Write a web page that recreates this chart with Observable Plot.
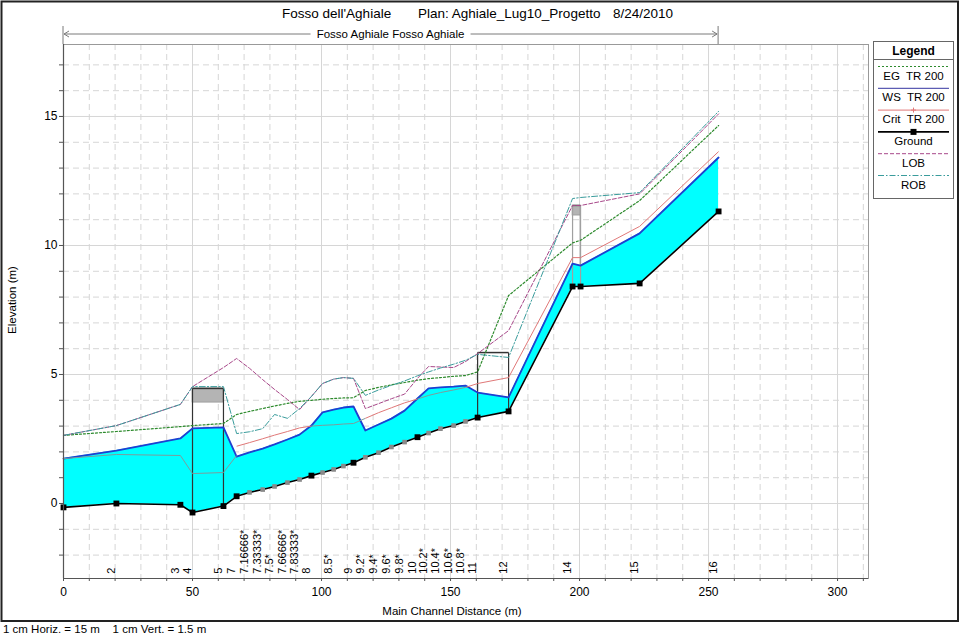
<!DOCTYPE html>
<html><head><meta charset="utf-8">
<script src="https://cdn.jsdelivr.net/npm/d3@7"></script>
<script src="https://cdn.jsdelivr.net/npm/@observablehq/plot@0.6"></script>
<style>
html,body{margin:0;padding:0;background:#fff;}
#chart svg{display:block;}
</style></head><body><div id="chart"></div>
<script>
// ---------- data ----------
const stationDist = [0, 20.5, 45.3, 50.0, 62.0, 67.1, 72.1, 77.2, 81.8, 86.8, 91.5, 96.1, 100.4, 104.7, 108.5, 112.4, 117.0, 122.1, 127.1, 132.2, 137.2, 141.5, 146.1, 151.2, 155.8, 160.5, 172.5, 197.3, 200.4, 223.3, 253.9];
const stationLabel = ["", "2", "3", "4", "5", "7", "7.16666*", "7.33333*", "7.5*", "7.66666*", "7.83333*", "8", "", "8.5*", "", "9", "9.2*", "9.4*", "9.6*", "9.8*", "10", "10.2*", "10.4*", "10.6*", "10.8*", "11", "12", "14", "", "15", "16"];
const stationInterp = [0,0,0,0,0,0,1,1,1,1,1,0,1,1,1,0,1,1,1,1,0,1,1,1,1,0,0,0,0,0,0];
const groundElev = [-0.15, 0.0, -0.05, -0.35, -0.1, 0.28, 0.43, 0.54, 0.66, 0.81, 0.93, 1.08, 1.2, 1.32, 1.45, 1.58, 1.79, 1.97, 2.19, 2.38, 2.57, 2.73, 2.9, 3.02, 3.18, 3.33, 3.57, 8.41, 8.41, 8.53, 11.32];
const wsElev = [1.74, 2.05, 2.52, 2.91, 2.95, 1.82, 1.98, 2.13, 2.29, 2.48, 2.67, 3.02, 3.53, 3.64, 3.72, 3.76, 2.83, 3.06, 3.29, 3.6, 4.07, 4.46, 4.5, 4.53, 4.57, 4.3, 4.11, 9.3, 9.22, 10.47, 13.41];
const egElev = [2.64, 2.79, 2.98, 3.02, 3.1, 3.45, 3.57, 3.68, 3.78, 3.88, 3.96, 4.0, 4.04, 4.07, 4.09, 4.1, 4.38, 4.5, 4.6, 4.69, 4.78, 4.84, 4.88, 4.93, 4.96, 5.1, 8.06, 10.1, 10.2, 11.74, 14.65];
const lobElev = [2.64, 3.02, 3.84, 4.53, 5.27, 5.62, 5.24, 4.8, 4.42, 4.03, 3.64, 4.15, 4.65, 4.82, 4.88, 4.85, 3.68, 3.87, 4.06, 4.24, 4.85, 5.31, 5.29, 5.27, 5.5, 5.81, 6.7, 11.55, 11.55, 12.0, 15.1];
const robElev = [2.64, 3.02, 3.84, 4.53, 4.53, 2.71, 2.78, 2.9, 3.45, 3.3, 3.68, 4.15, 4.65, 4.82, 4.88, 4.85, 4.19, 4.4, 4.58, 4.75, 4.95, 5.1, 5.25, 5.4, 5.55, 5.78, 5.66, 11.82, 11.86, 12.05, 15.2];
const critDist = [0, 20.5, 45.3, 50.0, 62.0, 67.1, 67.1, 72.1, 77.2, 81.8, 86.8, 91.5, 96.1, 100.4, 104.7, 108.5, 112.4, 117.0, 122.1, 127.1, 132.2, 137.2, 141.5, 146.1, 151.2, 155.8, 160.5, 172.5, 197.3, 200.4, 223.3, 253.9];
const critElev = [1.74, 1.9, 1.86, 1.16, 1.2, 1.86, 2.22, 2.36, 2.51, 2.65, 2.79, 2.93, 3.0, 3.03, 3.05, 3.08, 3.1, 3.3, 3.52, 3.71, 3.9, 4.05, 4.19, 4.3, 4.4, 4.5, 4.65, 4.88, 9.53, 9.53, 10.74, 13.64];
// structures (bridges / culvert)
const structLeft = [50.0, 160.5, 197.3];
const structRight = [62.0, 172.5, 200.4];
const structTop = [4.46, 5.85, 11.55];
const structLowChord = [3.91, 5.85, 11.16];
// axis ticks
const xTickLabels = [0, 50, 100, 150, 200, 250, 300];
const yTickLabels = [0, 5, 10, 15];
const legendLabels = ["EG  TR 200", "WS  TR 200", "Crit  TR 200", "Ground", "LOB", "ROB"];
const titleParts = ["Fosso dell'Aghiale", "Plan: Aghiale_Lug10_Progetto", "8/24/2010"];
const reachLabel = "Fosso Aghiale Fosso Aghiale";
const xTitle = "Main Channel Distance (m)";
const yTitle = "Elevation (m)";
const scaleNote = "1 cm Horiz. = 15 m    1 cm Vert. = 1.5 m";

// ---------- build tables ----------
const FONT = "'Liberation Sans', Arial, Helvetica, sans-serif";
const C = {eg:"#2e8b2e", ws:"#1f3fd0", crit:"#e07878", critIn:"#7d9c9c", ground:"#000", lob:"#a8488a", rob:"#3a9c9c", fill:"#00ffff"};
const stations = stationDist.map((d,i)=>({d, label:stationLabel[i], interp:!!stationInterp[i], ground:groundElev[i], ws:wsElev[i], eg:egElev[i], lob:lobElev[i], rob:robElev[i]}));
const wsAt = d3.scaleLinear().domain(stationDist).range(wsElev);
const groundAt = d3.scaleLinear().domain(stationDist).range(groundElev);
const critPts = critDist.map((d,i)=>({d, e:critElev[i], above: critElev[i] > wsAt(d) + 0.1}));
const critSegs = [];
for (let i=0;i<critPts.length-1;i++){
  const a=critPts[i], b=critPts[i+1];
  if (b.d===a.d) continue;
  critSegs.push({x1:a.d,y1:a.e,x2:b.d,y2:b.e, above:(a.e+b.e)/2 > wsAt((a.d+b.d)/2)});
}
const structs = structLeft.map((l,i)=>({i, left:l, right:structRight[i], top:structTop[i], low:structLowChord[i], gl:groundAt(l), gr:groundAt(structRight[i])}));
const structSides = structs.flatMap(s=>[{i:s.i, x:s.left, y1:s.gl, y2:s.top},{i:s.i, x:s.right, y1:s.gr, y2:s.top}]);

const xMinor = d3.range(0, 311, 10);
const yMinor = d3.range(-2, 18, 1);
const yDom = [-2.907, 17.79];

const chart = Plot.plot({
  width:960, height:635,
  marginLeft:63, marginRight:92, marginTop:44, marginBottom:57,
  x:{domain:[0,312], label:null},
  y:{domain:yDom, label:null},
  style:{fontFamily:FONT, fontSize:"12px", background:"#fff", color:"#000"},
  marks:[
    Plot.ruleX(xMinor.filter(v=>v%50!==0), {stroke:"#d6d6d6", strokeDasharray:"6,4"}),
    Plot.ruleX(xMinor.filter(v=>v%50===0), {stroke:"#d6d6d6"}),
    Plot.ruleY(yMinor.filter(v=>v%5!==0), {stroke:"#d6d6d6", strokeDasharray:"6,4"}),
    Plot.ruleY(yMinor.filter(v=>v%5===0), {stroke:"#d6d6d6"}),
    Plot.areaY(stations, {x:"d", y1:"ground", y2:"ws", fill:C.fill}),
    Plot.rect(structs.filter(s=>s.low<s.top), {x1:"left", x2:"right", y1:"low", y2:"top", fill:"#b4b4b4", stroke:"#888", strokeWidth:0.6}),
    Plot.link(structSides, {x1:"x", x2:"x", y1:"y1", y2:"y2", stroke:d=>d.i===2?"#a0a0a0":"#333", strokeWidth:1.2}),
    Plot.link(structs, {x1:"left", x2:"right", y1:"top", y2:"top", stroke:d=>d.i===2?"#707070":"#333", strokeWidth:1.5}),
    Plot.line(stations, {x:"d", y:"ground", stroke:C.ground, strokeWidth:1.6}),
    Plot.line(stations, {x:"d", y:"ws", stroke:C.ws, strokeWidth:1.8}),
    Plot.link(critSegs.filter(s=>!s.above), {x1:"x1", y1:"y1", x2:"x2", y2:"y2", stroke:C.critIn, strokeWidth:1}),
    Plot.link(critSegs.filter(s=>s.above), {x1:"x1", y1:"y1", x2:"x2", y2:"y2", stroke:C.crit, strokeWidth:1}),
    Plot.dot(critPts.filter(p=>!p.above), {x:"d", y:"e", symbol:"plus", r:1.8, fill:C.critIn, stroke:"none"}),
    Plot.dot(critPts.filter(p=>p.above), {x:"d", y:"e", symbol:"plus", r:1.8, fill:C.crit, stroke:"none"}),
    Plot.line(stations, {x:"d", y:"eg", stroke:C.eg, strokeWidth:1.2, strokeDasharray:"2,2"}),
    Plot.line(stations, {x:"d", y:"lob", stroke:C.lob, strokeWidth:1, strokeDasharray:"4,2"}),
    Plot.line(stations, {x:"d", y:"rob", stroke:C.rob, strokeWidth:1, strokeDasharray:"6,2,1.5,2"}),
    Plot.dot(stations.filter(s=>s.interp), {x:"d", y:"ground", symbol:"square", r:2.6, fill:"#8a8a8a", stroke:"none"}),
    Plot.dot(stations.filter(s=>!s.interp), {x:"d", y:"ground", symbol:"square", r:3.3, fill:"#000", stroke:"none"}),
    Plot.text(stations.filter(s=>s.label), {x:"d", y:-2.72, text:"label", rotate:-90, textAnchor:"start", fontSize:11, dx:-5, fill:"#000"}),
    Plot.frame({stroke:"#999"}),
    Plot.ruleX([0], {stroke:"#555", strokeWidth:1.2}),
    Plot.ruleY([yDom[0]], {stroke:"#555", strokeWidth:1.2}),
    Plot.axisX({ticks:xMinor, tickSize:3, tickFormat:()=>"", label:null, stroke:"#555"}),
    Plot.axisX({ticks:xTickLabels, tickSize:3, tickPadding:6, label:null, fontSize:12, stroke:"#555"}),
    Plot.axisY({ticks:yMinor, tickSize:4, tickFormat:()=>"", label:null, stroke:"#555"}),
    Plot.axisY({ticks:yTickLabels, tickSize:4, tickPadding:2, label:null, fontSize:12, stroke:"#555"})
  ]
});
document.getElementById("chart").appendChild(chart);

// ---------- annotations, legend, borders ----------
const svg = d3.select(chart);
const xs = chart.scale("x");
const g = svg.append("g").attr("font-family", FONT).attr("fill", "#000").attr("text-anchor","start");
// outer border
g.append("rect").attr("x",1.5).attr("y",1.5).attr("width",956.5).attr("height",619.5).attr("fill","none").attr("stroke","#222").attr("stroke-width",2);
// title
const titleX = [282, 418, 613];
titleParts.forEach((t,i)=>g.append("text").attr("x",titleX[i]).attr("y",18).attr("text-anchor","start").attr("font-size",13.5).text(t));
// reach arrow
const rx0 = xs.apply(0), rx1 = xs.apply(stationDist[stationDist.length-1]);
const ac = "#7a7a7a";
const arrow = g.append("g").attr("stroke", ac).attr("fill","none").attr("stroke-width",1);
arrow.append("line").attr("x1",rx0).attr("x2",rx0).attr("y1",26).attr("y2",44);
arrow.append("line").attr("x1",rx1).attr("x2",rx1).attr("y1",26).attr("y2",44);
const mid = (rx0+rx1)/2;
arrow.append("line").attr("x1",rx0+1).attr("x2",mid-80).attr("y1",34).attr("y2",34);
arrow.append("line").attr("x1",mid+80).attr("x2",rx1-1).attr("y1",34).attr("y2",34);
arrow.append("polyline").attr("points",`${rx0+6},31 ${rx0+1},34 ${rx0+6},37`);
arrow.append("polyline").attr("points",`${rx1-6},31 ${rx1-1},34 ${rx1-6},37`);
g.append("text").attr("x",mid).attr("y",38).attr("text-anchor","middle").attr("font-size",11.5).text(reachLabel);
// axis titles
g.append("text").attr("x",452).attr("y",615).attr("text-anchor","middle").attr("font-size",11.5).text(xTitle);
g.append("text").attr("transform","translate(16,300) rotate(-90)").attr("text-anchor","middle").attr("font-size",11.5).text(yTitle);
g.append("text").attr("x",3).attr("y",633).attr("text-anchor","start").attr("font-size",11.5).style("white-space","pre").text(scaleNote);
// legend
const L = g.append("g");
L.append("rect").attr("x",873.5).attr("y",41.5).attr("width",80).attr("height",157).attr("fill","#fff").attr("stroke","#666");
L.append("text").attr("x",913.5).attr("y",55).attr("text-anchor","middle").attr("font-weight","bold").attr("font-size",12).text("Legend");
L.append("line").attr("x1",873.5).attr("x2",953.5).attr("y1",59.5).attr("y2",59.5).attr("stroke","#666");
const legStyle = [
  {stroke:C.eg, dash:"2,2"}, {stroke:"#3535a0", dash:null}, {stroke:C.crit, dash:null, mark:"plus"},
  {stroke:"#000", dash:null, mark:"square", w:1.6}, {stroke:C.lob, dash:"4,2"}, {stroke:C.rob, dash:"6,2,1.5,2"}
];
legendLabels.forEach((t,i)=>{
  const ly = 66.5 + i*21.8;
  const ln = L.append("line").attr("x1",878).attr("x2",949).attr("y1",ly).attr("y2",ly).attr("stroke",legStyle[i].stroke).attr("stroke-width",legStyle[i].w||1);
  if (legStyle[i].dash) ln.attr("stroke-dasharray",legStyle[i].dash);
  if (legStyle[i].mark==="square") L.append("rect").attr("x",910.5).attr("y",ly-3).attr("width",6).attr("height",6).attr("fill","#000");
  if (legStyle[i].mark==="plus") L.append("path").attr("d",`M${913.5-2.5},${ly}H${913.5+2.5}M${913.5},${ly-2.5}V${ly+2.5}`).attr("stroke",C.crit);
  L.append("text").attr("x",913.5).attr("y",ly+13).attr("text-anchor","middle").attr("font-size",11.5).style("white-space","pre").text(t);
});
</script></body></html>
